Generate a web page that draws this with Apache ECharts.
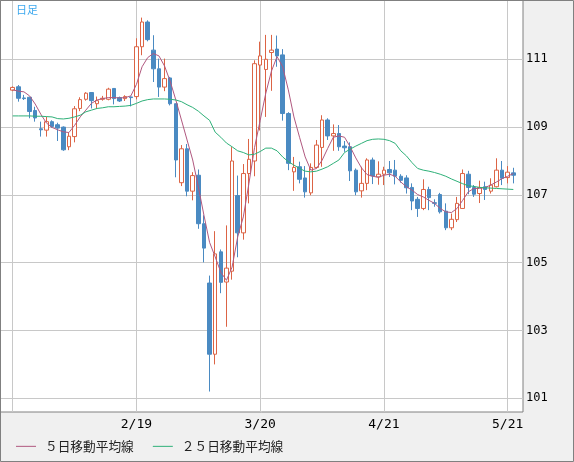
<!DOCTYPE html>
<html>
<head>
<meta charset="utf-8">
<script src="https://cdn.jsdelivr.net/npm/echarts@6/dist/echarts.min.js"></script>
<style>
html,body{margin:0;padding:0;background:#f0f0f0;}
#c{width:574px;height:462px;}
</style>
</head>
<body>
<div id="c"></div>
<script>
const dates = [
'1/20','1/21','1/22','1/23','1/24','1/27','1/28','1/29','1/30','1/31',
'2/3','2/4','2/5','2/6','2/7','2/10','2/11','2/12','2/13','2/14',
'2/17','2/18','2/19','2/20','2/21','2/24','2/25','2/26','2/27','2/28',
'3/2','3/3','3/4','3/5','3/6','3/9','3/10','3/11','3/12','3/13',
'3/16','3/17','3/18','3/19','3/20','3/23','3/24','3/25','3/26','3/27',
'3/30','3/31','4/1','4/2','4/3','4/6','4/7','4/8','4/9','4/10',
'4/13','4/14','4/15','4/16','4/17','4/20','4/21','4/22','4/23','4/24',
'4/27','4/28','4/29','4/30','5/1','5/4','5/5','5/6','5/7','5/8',
'5/11','5/12','5/13','5/14','5/15','5/18','5/19','5/20','5/21','5/22'];
const labelDates = ['2/19','3/20','4/21','5/21'];
const yTicks = [101,103,105,107,109,111];

const openV = [
110.09,110.19,109.86,109.88,109.49,108.95,108.91,109.16,109.07,109.00,
108.42,108.72,109.55,109.82,110.02,109.69,109.82,109.82,110.14,109.87,
109.84,109.89,109.90,111.37,112.10,111.27,110.72,110.18,110.45,109.69,
107.36,108.36,107.11,107.58,106.15,104.40,102.30,105.32,104.43,104.75,
106.98,105.88,107.63,108.00,110.83,110.70,111.20,111.30,111.13,109.40,
107.68,107.83,107.50,107.06,107.81,108.40,109.21,108.74,108.81,108.44,
108.42,107.73,107.12,107.34,108.03,107.53,107.61,107.75,107.73,107.55,
107.50,107.22,106.87,106.60,107.16,106.77,107.01,106.52,106.03,106.27,
106.60,107.61,107.22,107.04,107.24,107.11,107.24,107.73,107.51,107.65];
const closeV = [
110.17,109.85,109.84,109.46,109.27,108.92,109.16,109.02,108.97,108.33,
108.73,109.54,109.81,110.00,109.78,109.78,109.85,110.12,109.84,109.77,
109.90,109.87,111.37,112.10,111.58,110.72,110.18,110.43,109.69,108.03,
108.36,107.11,107.57,106.15,105.43,102.30,105.26,104.42,104.84,108.00,
105.88,107.63,108.05,110.87,111.10,111.00,111.27,111.10,109.40,107.93,
107.81,107.46,107.09,107.81,108.47,109.21,108.74,108.81,108.42,108.39,
107.71,107.09,107.34,108.03,107.56,107.61,107.73,107.65,107.55,107.43,
107.21,106.82,106.60,107.16,106.92,106.75,106.50,106.03,106.28,106.75,
107.63,107.22,107.02,107.22,107.16,107.29,107.73,107.49,107.67,107.58];
const lowV = [
110.06,109.75,109.80,109.26,109.16,108.72,108.72,108.98,108.59,108.30,
108.32,108.55,109.47,109.78,109.55,109.54,109.78,109.79,109.67,109.74,
109.77,109.61,109.82,111.12,111.53,110.33,109.89,110.06,109.64,107.52,
107.26,106.96,106.84,106.00,105.01,101.20,102.00,104.10,103.11,104.50,
105.16,105.68,106.75,107.55,108.90,109.30,110.07,110.78,109.19,107.73,
107.12,107.34,106.92,106.99,107.78,107.83,108.62,108.30,108.30,108.27,
107.41,106.99,106.92,107.14,107.32,107.30,107.29,107.53,107.31,107.36,
107.04,106.55,106.35,106.55,106.55,106.65,106.45,105.96,105.96,106.20,
106.60,107.02,106.94,106.76,106.85,107.04,107.22,107.29,107.34,107.34];
const highV = [
110.20,110.24,109.95,109.88,109.60,109.16,109.31,109.20,109.13,109.02,
108.83,109.62,109.88,110.03,110.03,109.90,109.92,110.16,110.15,109.90,
109.94,109.90,111.62,112.23,112.15,111.71,111.02,111.02,110.48,109.69,
108.47,108.50,107.67,107.75,106.40,104.62,105.93,105.39,106.10,108.41,
107.57,107.91,108.65,110.97,111.52,111.72,111.72,111.70,111.30,109.44,
108.12,107.98,107.85,107.93,108.62,109.35,109.26,109.08,109.06,108.59,
108.55,107.78,107.83,108.08,108.10,107.99,107.83,108.00,108.03,107.61,
107.58,107.34,106.94,107.46,107.24,106.87,107.06,106.75,106.45,106.94,
107.75,107.71,107.29,107.42,107.39,107.49,108.08,108.00,107.85,107.80];
const ma5 = [
110.10,110.06,110.04,109.92,109.68,109.38,109.12,108.99,108.92,108.86,
108.84,109.05,109.30,109.50,109.70,109.80,109.84,109.87,109.87,109.86,
109.87,109.92,110.26,110.78,111.05,111.17,111.10,110.80,110.35,109.80,
109.21,108.62,108.03,107.24,106.40,105.60,105.17,104.72,104.48,104.87,
105.76,106.35,107.34,108.40,109.20,110.00,110.65,111.08,110.78,110.10,
109.30,108.70,108.12,107.73,107.78,108.02,108.37,108.70,108.74,108.70,
108.42,108.09,107.80,107.60,107.55,107.52,107.58,107.61,107.55,107.38,
107.24,107.14,107.01,106.94,106.84,106.75,106.60,106.50,106.48,106.60,
106.84,107.09,107.19,107.19,107.22,107.29,107.38,107.48,107.55,107.63];
const ma25 = [
109.33,109.33,109.33,109.33,109.32,109.32,109.31,109.30,109.25,109.24,
109.26,109.30,109.35,109.45,109.50,109.55,109.57,109.60,109.60,109.61,
109.62,109.64,109.70,109.77,109.81,109.83,109.83,109.83,109.82,109.80,
109.75,109.66,109.58,109.47,109.33,109.20,108.85,108.70,108.53,108.42,
108.30,108.25,108.18,108.20,108.28,108.38,108.38,108.30,108.12,107.98,
107.88,107.78,107.70,107.68,107.70,107.76,107.83,107.93,108.03,108.25,
108.35,108.44,108.52,108.60,108.64,108.65,108.64,108.60,108.52,108.30,
108.15,107.95,107.78,107.73,107.70,107.66,107.61,107.55,107.47,107.40,
107.33,107.27,107.25,107.22,107.21,107.20,107.19,107.18,107.17,107.16];

const seriesNames = ['５日移動平均線','２５日移動平均線'];
const yMin = 100.596, yMax = 112.749;

const candles = dates.map((d,i)=>[openV[i], closeV[i], lowV[i], highV[i]]);

const chart = echarts.init(document.getElementById('c'), null, {renderer:'canvas'});
chart.setOption({
  animation:false,
  backgroundColor:'#f0f0f0',
  title:{text:'日足', left:16, top:4, padding:0,
    textStyle:{color:'#3ca8ee', fontSize:11, fontWeight:'normal', fontFamily:'Noto Sans CJK JP'}},
  legend:{data:seriesNames, left:16, top:440, padding:0, icon:'rect', itemWidth:20, itemHeight:1, itemGap:19,
    textStyle:{fontSize:12.7, color:'#222', fontFamily:'Noto Sans CJK JP', padding:[0,0,0,4]}},
  graphic:[{type:'rect', silent:true, z:100, shape:{x:0.5,y:0.5,width:573,height:461},
    style:{fill:'none', stroke:'#808080', lineWidth:1}}],
  grid:[
    {left:0, top:0, width:523, height:412, show:true, backgroundColor:'#ffffff', borderColor:'#808080', borderWidth:1},
    {left:12.7, top:0, width:500.6, height:412, show:false}
  ],
  xAxis:[
    {gridIndex:0, type:'value', min:0, max:1, show:false},
    {gridIndex:1, type:'category', data:dates, boundaryGap:false,
     axisLine:{show:false}, axisTick:{show:false},
     axisLabel:{interval:(i,v)=>labelDates.includes(v), margin:6, color:'#000', fontSize:13, fontFamily:'DejaVu Sans Mono'},
     splitLine:{show:true, interval:(i,v)=>i===0 || labelDates.includes(v), lineStyle:{color:'#c8c8c8', width:1}}}
  ],
  yAxis:[
    {gridIndex:0, type:'value', position:'right', min:yMin, max:yMax,
     axisLine:{show:false}, axisTick:{show:false, customValues:yTicks},
     axisLabel:{customValues:yTicks, margin:3, color:'#000', fontSize:12, fontFamily:'DejaVu Sans Mono'},
     splitLine:{show:true, lineStyle:{color:'#c8c8c8', width:1}}},
    {gridIndex:1, type:'value', min:yMin, max:yMax, show:false, splitLine:{show:false}}
  ],
  series:[
    {type:'candlestick', xAxisIndex:1, yAxisIndex:1, data:candles, barWidth:4, clip:false, z:2,
     itemStyle:{color:'#ffffff', color0:'#4a8ac2', borderColor:'#dc6445', borderColor0:'#4a8ac2', borderWidth:1}},
    {name:seriesNames[0], type:'line', xAxisIndex:1, yAxisIndex:1, data:ma5, showSymbol:false, z:3,
     lineStyle:{color:'#b0587f', width:1}, itemStyle:{color:'#b0587f'}},
    {name:seriesNames[1], type:'line', xAxisIndex:1, yAxisIndex:1, data:ma25, showSymbol:false, z:3,
     lineStyle:{color:'#2eb078', width:1}, itemStyle:{color:'#2eb078'}}
  ]
});
</script>
</body>
</html>
